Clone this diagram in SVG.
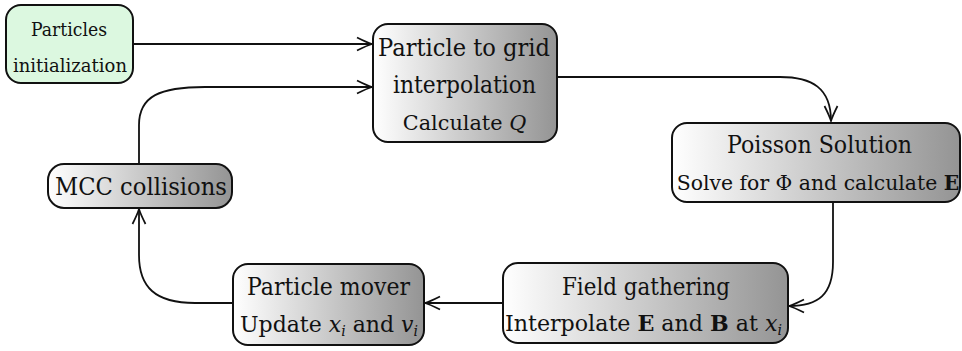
<svg xmlns="http://www.w3.org/2000/svg" width="962" height="351" viewBox="0 0 962 351">
<style>
  .box{fill:url(#g);stroke:#111;stroke-width:2}
  .init{fill:#dcf8e0;stroke:#111;stroke-width:2}
  text{font-family:'DejaVu Serif','Liberation Serif',serif;fill:#111;text-anchor:middle}
  .big{font-size:24px}
  .mid{font-size:22px}
  .sm{font-size:19px}
  .it{font-style:italic}
  .b{font-weight:bold}
  .edge{fill:none;stroke:#111;stroke-width:1.8;marker-end:url(#arr)}
</style>
<defs>
  <linearGradient id="g" x1="0" y1="0" x2="1" y2="0">
    <stop offset="0" stop-color="#ffffff"/>
    <stop offset="1" stop-color="#949494"/>
  </linearGradient>
  <marker id="arr" markerUnits="userSpaceOnUse" markerWidth="22" markerHeight="18" refX="17" refY="9" orient="auto">
    <path d="M2,2.5 C8,5.5 12,7.5 17,9 C12,10.5 8,12.5 2,15.5" fill="none" stroke="#111" stroke-width="1.7"/>
  </marker>
</defs>

<g id="connectors">
  <path class="edge" d="M133,44 H372"/>
  <path class="edge" d="M139,164 V125 C139,96 160,87 205,87 H372"/>
  <path class="edge" d="M557,77 H780 C812,77 831,88 831,121"/>
  <path class="edge" d="M833,202 V262 C833,295 818,306 789,306"/>
  <path class="edge" d="M503,303 H425"/>
  <path class="edge" d="M233,303 H195 C155,303 139,287 139,255 V209"/>
</g>

<g id="init">
  <rect class="init" x="6" y="5" width="127" height="78" rx="15"/>
  <text class="sm" x="69" y="36" textLength="76" lengthAdjust="spacingAndGlyphs">Particles</text>
  <text class="sm" x="70" y="72" textLength="114" lengthAdjust="spacingAndGlyphs">initialization</text>
</g>

<g id="ptg">
  <rect class="box" x="373" y="24" width="184" height="118" rx="15"/>
  <text class="big" x="464" y="56" textLength="172" lengthAdjust="spacingAndGlyphs">Particle to grid</text>
  <text class="big" x="464.5" y="93" textLength="143" lengthAdjust="spacingAndGlyphs">interpolation</text>
  <text x="464.5" y="130" font-size="20.8">Calculate <tspan class="it">Q</tspan></text>
</g>

<g id="poisson">
  <rect class="box" x="672" y="123" width="288" height="79" rx="15"/>
  <text class="big" x="819.5" y="153" textLength="185" lengthAdjust="spacingAndGlyphs">Poisson Solution</text>
  <text x="818" y="190" font-size="20.4">Solve for Φ and calculate <tspan class="b">E</tspan></text>
</g>

<g id="field">
  <rect class="box" x="503" y="263" width="285" height="80" rx="15"/>
  <text class="big" x="646" y="295" textLength="168" lengthAdjust="spacingAndGlyphs">Field gathering</text>
  <text class="mid" x="643.5" y="331" textLength="277" lengthAdjust="spacingAndGlyphs">Interpolate <tspan class="b">E</tspan> and <tspan class="b">B</tspan> at <tspan class="it">x</tspan><tspan class="it" font-size="14" dy="4">i</tspan></text>
</g>

<g id="mover">
  <rect class="box" x="233" y="264" width="191" height="81" rx="15"/>
  <text class="big" x="328.5" y="295" textLength="163" lengthAdjust="spacingAndGlyphs">Particle mover</text>
  <text class="mid" x="329" y="332" textLength="178" lengthAdjust="spacingAndGlyphs">Update <tspan class="it">x</tspan><tspan class="it" font-size="14" dy="4">i</tspan><tspan dy="-4"> and </tspan><tspan class="it">v</tspan><tspan class="it" font-size="14" dy="4">i</tspan></text>
</g>

<g id="mcc">
  <rect class="box" x="48" y="164" width="184" height="44" rx="16"/>
  <text class="big" x="141" y="195" textLength="172" lengthAdjust="spacingAndGlyphs">MCC collisions</text>
</g>
</svg>
